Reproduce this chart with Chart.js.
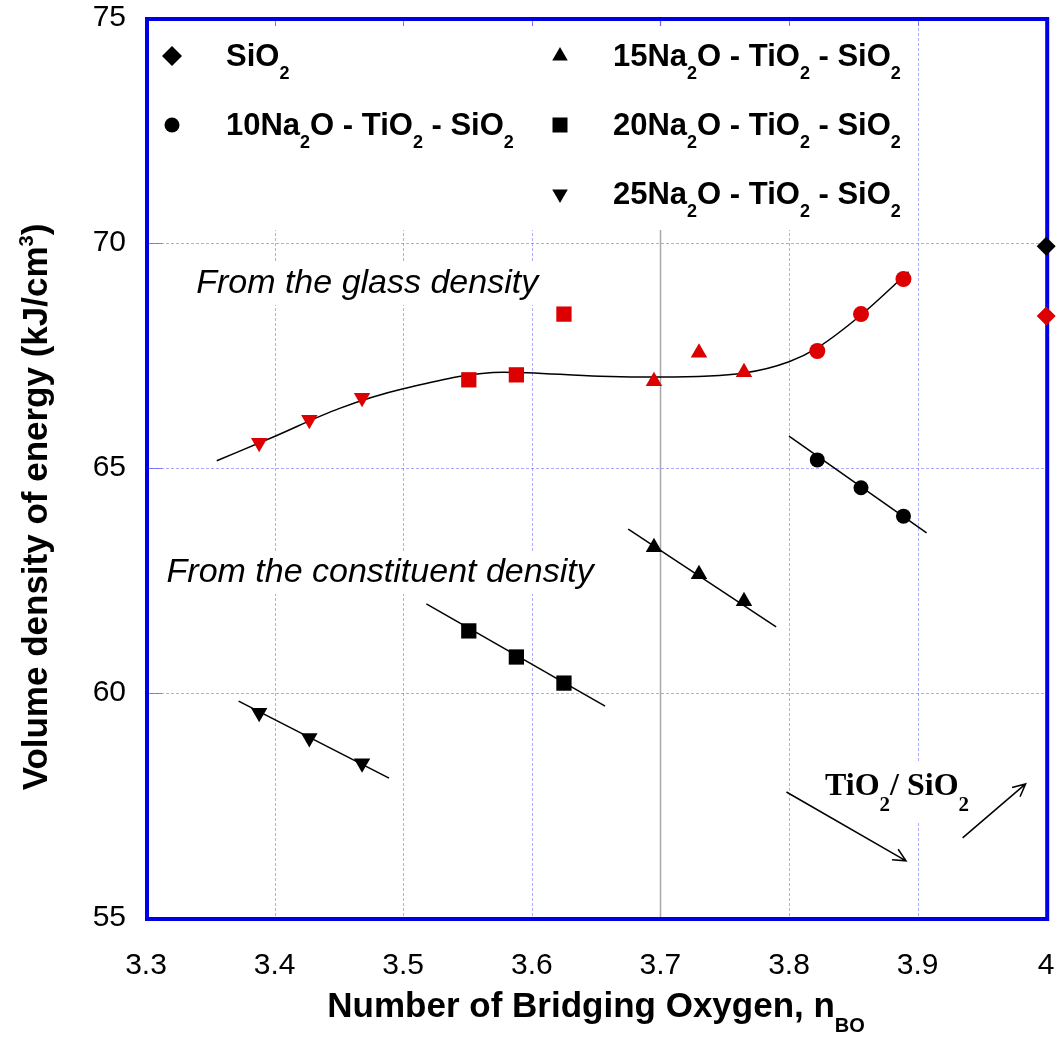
<!DOCTYPE html>
<html>
<head>
<meta charset="utf-8">
<script src="https://cdn.jsdelivr.net/npm/chart.js@4.4.1/dist/chart.umd.min.js"></script>
<style>
  html, body { margin: 0; padding: 0; background: #fff; }
  #wrap { width: 1057px; height: 1040px; }
</style>
</head>
<body>
<div id="wrap"><canvas id="chart" width="1057" height="1040"></canvas></div>
<script>
// number of bridging oxygen for each glass family
var nbo25 = [3.388, 3.427, 3.468];
var nbo20 = [3.551, 3.588, 3.625];
var nbo15 = [3.695, 3.730, 3.765];
var nbo10 = [3.822, 3.856, 3.889];
var nboSiO2 = [4.0];

// volume density of energy from the glass density (red)
var glass25 = [65.56, 66.07, 66.56];
var glass20 = [66.96, 67.07, 68.42];
var glass15 = [66.93, 67.56, 67.13];
var glass10 = [67.60, 68.42, 69.20];
var glassSiO2 = [68.38];

// volume density of energy from the constituent density (black)
var const25 = [59.56, 59.00, 58.44];
var const20 = [61.38, 60.80, 60.22];
var const15 = [63.24, 62.64, 62.04];
var const10 = [65.18, 64.56, 63.93];
var constSiO2 = [69.93];

// straight fits through the constituent points
var fit25X = [3.372, 3.489], fit25Y = [59.82, 58.11];
var fit20X = [3.518, 3.657], fit20Y = [61.98, 59.71];
var fit15X = [3.675, 3.790], fit15Y = [63.64, 61.47];
var fit10X = [3.800, 3.907], fit10Y = [65.71, 63.56];

// smooth curve through the glass points
var curveX = [3.355, 3.399, 3.450, 3.500, 3.578, 3.653, 3.700, 3.765, 3.800, 3.822, 3.856, 3.893];
var curveY = [65.16, 65.69, 66.32, 66.76, 67.13, 67.04, 67.02, 67.11, 67.36, 67.67, 68.40, 69.36];

var RED = 'rgb(221, 0, 0)';
var GRID = 'rgba(100, 100, 255, 0.55)';
var SANS = "'Liberation Sans', Arial, sans-serif";
var SERIF = "'Liberation Serif', 'Times New Roman', serif";

function pts(xs, ys) {
    return xs.map(function(x, i) { return {x: x, y: ys[i]}; });
}

function markers(label, xs, ys, color, style, r, rot) {
    return {
        label: label,
        data: pts(xs, ys),
        pointStyle: style,
        pointRadius: r,
        pointHoverRadius: r,
        pointRotation: rot || 0,
        backgroundColor: color,
        borderColor: color,
        borderWidth: 0,
        showLine: false,
        clip: false
    };
}

function line(xs, ys, smooth) {
    return {
        data: pts(xs, ys),
        showLine: true,
        pointRadius: 0,
        borderColor: '#000',
        borderWidth: 1.5,
        cubicInterpolationMode: smooth ? 'monotone' : 'default',
        tension: smooth ? 0.4 : 0,
        clip: false
    };
}

// text with sub / superscripts: parts = [[text, kind]]
function rich(ctx, parts, x, y, o, draw) {
    var cx = x;
    parts.forEach(function(p) {
        var small = p[1] === 'sub' || p[1] === 'sup';
        ctx.font = (o.style || '') + ' ' + (o.weight || '') + ' ' + (small ? o.small : o.size) + 'px ' + o.family;
        var dy = p[1] === 'sub' ? o.shift : (p[1] === 'sup' ? -o.shift : 0);
        if (draw) ctx.fillText(p[0], cx, y + dy);
        cx += ctx.measureText(p[0]).width;
    });
    return cx - x;
}

function naLabel(n) {
    return [[n + 'Na', ''], ['2', 'sub'], ['O - TiO', ''], ['2', 'sub'], [' - SiO', ''], ['2', 'sub']];
}

var legendItems = [
    {parts: [['SiO', ''], ['2', 'sub']], style: 'rectRot', r: 10, rot: 0, col: 0, row: 0},
    {parts: naLabel(10), style: 'circle', r: 7.5, rot: 0, col: 0, row: 1},
    {parts: naLabel(15), style: 'triangle', r: 9, rot: 0, col: 1, row: 0},
    {parts: naLabel(20), style: 'rect', r: 10.6, rot: 0, col: 1, row: 1},
    {parts: naLabel(25), style: 'triangle', r: 9, rot: 180, col: 1, row: 2}
];

var decor = {
    id: 'decor',
    beforeDatasetsDraw: function(chart) {
        var ctx = chart.ctx, a = chart.chartArea;
        var xs = chart.scales.x, ys = chart.scales.y;
        ctx.save();

        // grid
        xs.ticks.forEach(function(t) {
            var v = Math.round(t.value * 10) / 10;
            if (v <= 3.3 || v >= 4) return;
            var px = Math.round(xs.getPixelForValue(v)) + 0.5;
            ctx.beginPath();
            if (v === 3.7) {
                ctx.setLineDash([]);
                ctx.strokeStyle = '#a9a9a9';
                ctx.lineWidth = 1.5;
            } else {
                ctx.setLineDash([3, 2]);
                ctx.strokeStyle = GRID;
                ctx.lineWidth = 1;
            }
            ctx.moveTo(px, a.top);
            ctx.lineTo(px, a.bottom);
            ctx.stroke();
        });
        ctx.setLineDash([3, 2]);
        ctx.strokeStyle = GRID;
        ctx.lineWidth = 1;
        ys.ticks.forEach(function(t) {
            if (t.value <= 55 || t.value >= 75) return;
            var py = Math.round(ys.getPixelForValue(t.value)) + 0.5;
            ctx.beginPath();
            ctx.moveTo(a.left, py);
            ctx.lineTo(a.right, py);
            ctx.stroke();
        });
        // inner tick marks
        ctx.setLineDash([]);
        ctx.strokeStyle = 'rgba(100, 100, 255, 0.8)';
        ys.ticks.forEach(function(t) {
            var py = Math.round(ys.getPixelForValue(t.value)) + 0.5;
            ctx.beginPath();
            ctx.moveTo(a.left, py);
            ctx.lineTo(a.left + 16, py);
            ctx.stroke();
        });
        xs.ticks.forEach(function(t) {
            var px = Math.round(xs.getPixelForValue(t.value)) + 0.5;
            ctx.beginPath();
            ctx.moveTo(px, a.top);
            ctx.lineTo(px, a.top + 8);
            ctx.stroke();
        });

        // legend box
        ctx.fillStyle = '#fff';
        ctx.fillRect(a.left + 2, a.top + 8, 768, 204);
        ctx.textBaseline = 'alphabetic';
        ctx.textAlign = 'left';
        legendItems.forEach(function(it) {
            var mx = a.left + (it.col ? 414 : 26);
            var my = a.top + 38 + it.row * 69;
            ctx.fillStyle = '#000';
            Chart.helpers.drawPoint(ctx, {pointStyle: it.style, radius: it.r, rotation: it.rot, borderWidth: 0}, mx, my);
            ctx.fillStyle = '#000';
            rich(ctx, it.parts, a.left + (it.col ? 467 : 80), my + 10,
                {weight: 'bold', size: 31, small: 18, shift: 13, family: SANS}, true);
        });

        // annotations, anchored in data units
        var notes = [
            {text: 'From the glass density', x: 3.339, y: 68.89},
            {text: 'From the constituent density', x: 3.316, y: 62.47}
        ];
        ctx.font = 'italic 34px ' + SANS;
        notes.forEach(function(n) {
            var px = xs.getPixelForValue(n.x), py = ys.getPixelForValue(n.y);
            var w = ctx.measureText(n.text).width;
            ctx.fillStyle = '#fff';
            ctx.fillRect(px - 5, py - 30, w + 10, 42);
            ctx.fillStyle = '#000';
            ctx.fillText(n.text, px, py);
        });

        var ratio = [['TiO', ''], ['2', 'sub'], ['/ SiO', ''], ['2', 'sub']];
        var ro = {weight: 'bold', size: 32, small: 21, shift: 16, family: SERIF};
        var rx = xs.getPixelForValue(3.828), ry = ys.getPixelForValue(57.73);
        var rw = rich(ctx, ratio, rx, ry, ro, false);
        ctx.fillStyle = '#fff';
        ctx.fillRect(rx - 6, ry - 33, rw + 12, 61);
        ctx.fillStyle = '#000';
        rich(ctx, ratio, rx, ry, ro, true);

        // arrows
        var arrows = [[3.798, 57.80, 3.891, 56.27], [3.935, 56.78, 3.984, 57.98]];
        ctx.strokeStyle = '#000';
        ctx.lineWidth = 1.5;
        arrows.forEach(function(ar) {
            var x1 = xs.getPixelForValue(ar[0]), y1 = ys.getPixelForValue(ar[1]);
            var x2 = xs.getPixelForValue(ar[2]), y2 = ys.getPixelForValue(ar[3]);
            var ang = Math.atan2(y2 - y1, x2 - x1), h = 14;
            ctx.beginPath();
            ctx.moveTo(x1, y1);
            ctx.lineTo(x2, y2);
            ctx.moveTo(x2 - h * Math.cos(ang - 0.45), y2 - h * Math.sin(ang - 0.45));
            ctx.lineTo(x2, y2);
            ctx.lineTo(x2 - h * Math.cos(ang + 0.45), y2 - h * Math.sin(ang + 0.45));
            ctx.stroke();
        });

        // plot frame
        ctx.strokeStyle = 'rgb(0, 0, 230)';
        ctx.lineWidth = 4;
        ctx.strokeRect(a.left + 1, a.top + 1, a.right - a.left, a.bottom - a.top);
        ctx.restore();
    },
    afterDraw: function(chart) {
        var ctx = chart.ctx, a = chart.chartArea;
        ctx.save();
        ctx.fillStyle = '#000';
        ctx.textBaseline = 'alphabetic';
        // x axis title
        var xt = [['Number of Bridging Oxygen, n', ''], ['BO', 'sub']];
        var xo = {weight: 'bold', size: 35, small: 20, shift: 15, family: SANS};
        var xw = rich(ctx, xt, 0, 0, xo, false);
        rich(ctx, xt, (a.left + a.right) / 2 - xw / 2, 1017, xo, true);
        // y axis title
        var yt = [['Volume density of energy (kJ/cm', ''], ['3', 'sup'], [')', '']];
        var yo = {weight: 'bold', size: 35, small: 20, shift: 14, family: SANS};
        var yw = rich(ctx, yt, 0, 0, yo, false);
        ctx.translate(35, 507);
        ctx.rotate(-Math.PI / 2);
        rich(ctx, yt, -yw / 2, 12, yo, true);
        ctx.restore();
    }
};

var ctx = document.getElementById('chart');
var chart = new Chart(ctx, {
    type: 'scatter',
    data: {
        datasets: [
            markers('SiO2', nboSiO2, constSiO2, '#000', 'rectRot', 9.5),
            markers('SiO2 glass', nboSiO2, glassSiO2, RED, 'rectRot', 9.5),
            markers('10Na2O', nbo10, const10, '#000', 'circle', 7.5),
            markers('10Na2O glass', nbo10, glass10, RED, 'circle', 8),
            markers('15Na2O', nbo15, const15, '#000', 'triangle', 9.5),
            markers('15Na2O glass', nbo15, glass15, RED, 'triangle', 9.5),
            markers('20Na2O', nbo20, const20, '#000', 'rect', 10.8),
            markers('20Na2O glass', nbo20, glass20, RED, 'rect', 10.8),
            markers('25Na2O', nbo25, const25, '#000', 'triangle', 9.5, 180),
            markers('25Na2O glass', nbo25, glass25, RED, 'triangle', 9.5, 180),
            line(fit25X, fit25Y),
            line(fit20X, fit20Y),
            line(fit15X, fit15Y),
            line(fit10X, fit10Y),
            line(curveX, curveY, true)
        ]
    },
    options: {
        responsive: false,
        devicePixelRatio: 1,
        animation: false,
        events: [],
        layout: {padding: 0},
        plugins: {
            legend: {display: false},
            tooltip: {enabled: false}
        },
        scales: {
            x: {
                type: 'linear',
                min: 3.3,
                max: 4.0,
                grid: {display: false, drawTicks: false},
                border: {display: false},
                ticks: {
                    stepSize: 0.1,
                    padding: 30,
                    color: '#000',
                    font: {family: SANS, size: 30},
                    callback: function(v) { return String(Number(v.toFixed(1))); }
                },
                afterFit: function(s) {
                    s.height = 122;
                    s.paddingLeft = 0;
                    s.paddingRight = 10;
                }
            },
            y: {
                type: 'linear',
                min: 55,
                max: 75,
                grid: {display: false, drawTicks: false},
                border: {display: false},
                ticks: {
                    stepSize: 5,
                    padding: 20,
                    color: '#000',
                    font: {family: SANS, size: 30}
                },
                afterFit: function(s) {
                    s.width = 146;
                    s.paddingTop = 18;
                    s.paddingBottom = 0;
                }
            }
        }
    },
    plugins: [decor]
});
</script>
</body>
</html>
